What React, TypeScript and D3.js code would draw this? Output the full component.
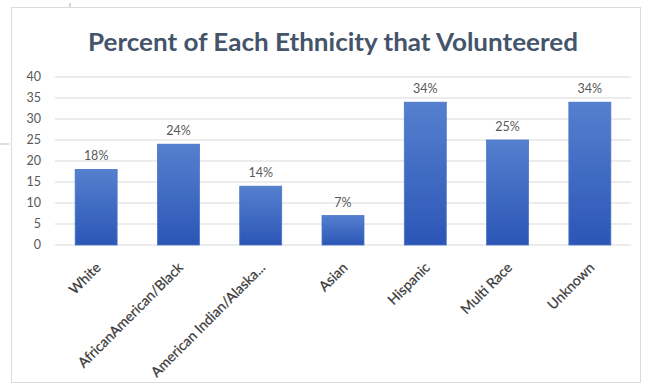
import React from "react";
import * as d3 from "d3";

const categories = ["White", "AfricanAmerican/Black", "American Indian/Alaska...", "Asian", "Hispanic", "Multi Race", "Unknown"];
const values = [18, 24, 14, 7, 34, 25, 34];
const yTicks = [0, 5, 10, 15, 20, 25, 30, 35, 40];
const title = "Percent of Each Ethnicity that Volunteered";

const W = 645;
const H = 387;

export default function App() {
  const x = d3.scaleBand<string>().domain(categories).range([55, 631]).paddingInner(0.49).paddingOuter(0.245);
  const y = d3.scaleLinear().domain([0, 40]).range([245, 77]);
  const font = "Lato, 'Open Sans', sans-serif";
  return (
    <svg width={W} height={H} style={{ position: "absolute", left: 0, top: 0, background: "#fff" }}>
      <defs>
        <linearGradient id="barGrad" x1="0" y1="0" x2="0" y2="1">
          <stop offset="0" stopColor="#5580cf" />
          <stop offset="1" stopColor="#2c56b6" />
        </linearGradient>
      </defs>
      <rect x={0} y={0} width={W} height={H} fill="#fff" />
      <rect x={11.5} y={7.5} width={629} height={375} fill="#fff" stroke="#dcdcdc" strokeWidth={1} />
      <line x1={70} x2={70} y1={3} y2={7} stroke="#aaa" />
      <line x1={0} x2={9} y1={144} y2={144} stroke="#bbb" />
      <text x={333} y={51} textAnchor="middle" fontFamily={font} fontWeight={700} fontSize={25} fill="#44546a" textLength={490} lengthAdjust="spacingAndGlyphs">{title}</text>
      {yTicks.map((t) => (
        <g key={t}>
          <line x1={55} x2={631} y1={y(t)} y2={y(t)} stroke="#d9d9d9" strokeWidth={1.2} />
          <text x={41} y={y(t)} dy="0.35em" textAnchor="end" fontFamily={font} fontSize={12.5} fill="#595959">{t}</text>
        </g>
      ))}
      {categories.map((c, i) => {
        const bx = x(c)!;
        const bw = x.bandwidth();
        const cx = bx + bw / 2;
        return (
          <g key={c}>
            <rect x={bx} y={y(values[i])} width={bw} height={y(0) - y(values[i])} fill="url(#barGrad)" stroke="#4a74c6" strokeWidth={0.8} />
            <text x={cx} y={y(values[i]) - 9} textAnchor="middle" fontFamily={font} fontSize={12.5} fill="#595959">{values[i]}%</text>
            <text transform={`translate(${cx + 2},${265}) rotate(-45)`} dy="0.35em" textAnchor="end" fontFamily={font} fontSize={14} fill="#3a3a3a" stroke="#3a3a3a" strokeWidth={0.25}>{c}</text>
          </g>
        );
      })}
    </svg>
  );
}
